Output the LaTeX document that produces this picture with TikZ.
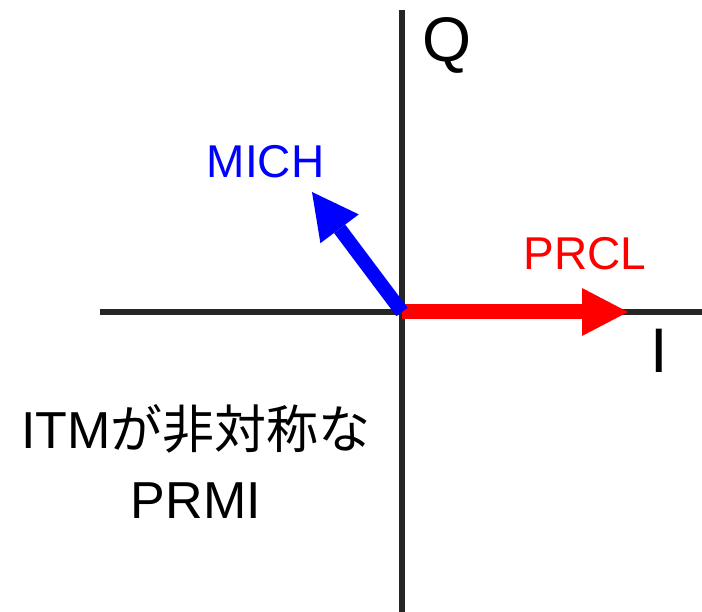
\documentclass[tikz,border=0pt]{standalone}
\usepackage{fontspec}
\setmainfont{Liberation Sans}
\newfontfamily\cjk{Noto Sans CJK JP}
\usetikzlibrary{arrows.meta}
\definecolor{axisgray}{HTML}{262626}
\begin{document}
\begin{tikzpicture}[x=1pt, y=-1pt,
      axis/.style={draw=axisgray, line width=6pt},
      vec/.style={line width=15pt,
        -{Triangle[length=46pt,width=48pt,line width=0pt]}},
      biglabel/.style={anchor=base, inner sep=0pt, font=\fontsize{63}{70}\selectfont},
      veclabel/.style={anchor=base, inner sep=0pt, font=\fontsize{46}{52}\selectfont},]
    \useasboundingbox (0,0) rectangle (702,612);
    \coordinate (origin) at (402,312);
    \coordinate (ileft) at (100,312);
    \coordinate (iright) at (702,312);
    \coordinate (qtop) at (402,10);
    \coordinate (qbottom) at (402,612);
    \coordinate (prcltip) at (628,312);
    \coordinate (michtip) at (312,192);
    \draw[axis] (ileft) -- (iright);
    \draw[axis] (qbottom) -- (qtop);
    \draw[vec, red] (origin) -- (prcltip);
    \draw[vec, blue, line width=14pt] (origin) -- (michtip);
    \node[biglabel] (qlabel) at (447,62) {Q};
    \node[biglabel] (ilabel) at (659.5,373) {I};
    \node[veclabel, text=blue] (michlabel) at (265.5,178) {MICH};
    \node[veclabel, text=red] (prcllabel) at (585,270) {PRCL};
    \node[anchor=base, inner sep=0pt, align=center,
      font=\fontsize{52}{70}\selectfont] (caption) at (196,518)
      {ITM{\cjk が非対称な}\\PRMI};
\end{tikzpicture}
\end{document}
